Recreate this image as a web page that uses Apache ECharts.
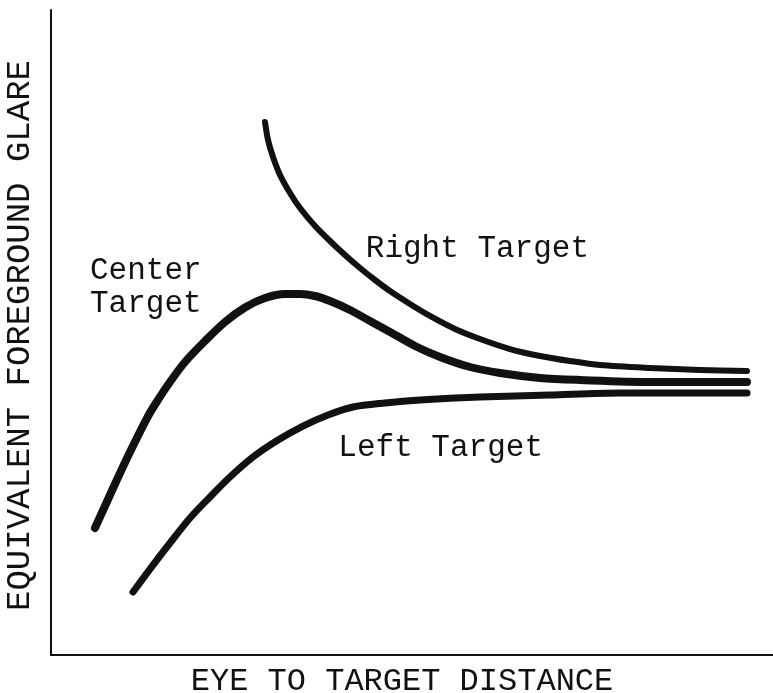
<!DOCTYPE html>
<html>
<head>
<meta charset="utf-8">
<script src="https://cdn.jsdelivr.net/npm/echarts@6/dist/echarts.min.js"></script>
<style>
  html, body { margin: 0; padding: 0; background: #fff; }
  #chart { width: 773px; height: 693px; }
</style>
</head>
<body>
<div id="chart"></div>
<script>
// arbitrary units (x: 0-100 distance, y: 0-100 glare)
var rightTarget = [
  [29.64, 82.64], [30.06, 79.84], [30.75, 77.21], [31.72, 74.42], [33.10, 71.63],
  [34.49, 69.30], [36.57, 66.51], [38.64, 64.19], [40.72, 62.02], [42.80, 60.00],
  [44.88, 58.14], [46.95, 56.43], [49.72, 54.42], [52.49, 52.56], [55.96, 50.54],
  [59.42, 48.99], [63.57, 47.44], [67.73, 46.36], [71.88, 45.58], [76.04, 44.96],
  [82.96, 44.50], [89.89, 44.19], [96.40, 44.03]
];
var centerTarget = [
  [6.09, 19.69], [7.48, 23.10], [8.86, 26.51], [10.94, 31.47], [13.30, 36.74],
  [14.54, 39.07], [16.48, 42.33], [18.56, 45.43], [21.33, 48.68], [24.10, 51.63],
  [26.87, 53.88], [29.64, 55.35], [32.41, 55.97], [34.49, 55.97], [36.57, 55.66],
  [38.64, 54.88], [41.41, 53.49], [44.18, 51.78], [46.95, 50.08], [50.42, 47.91],
  [53.88, 46.20], [58.03, 44.65], [62.19, 43.72], [67.73, 42.95], [73.27, 42.64],
  [82.96, 42.33], [96.40, 42.33]
];
var leftTarget = [
  [11.36, 9.77], [13.71, 13.33], [16.48, 17.36], [19.25, 21.24], [22.02, 24.50],
  [24.79, 27.60], [27.98, 30.70], [31.44, 33.33], [34.90, 35.50], [38.37, 37.21],
  [41.83, 38.45], [46.26, 39.07], [51.11, 39.53], [59.42, 40.00], [69.11, 40.31],
  [78.81, 40.62], [96.40, 40.62]
];
var labels = [
  { text: 'Right Target', x: 43.6, y: 62.9 },
  { text: 'Center\nTarget', x: 5.4, y: 57.0 },
  { text: 'Left Target', x: 39.8, y: 32.2 }
];

var font = "'Liberation Mono', 'Courier New', monospace";
var ink = '#111';

var chart = echarts.init(document.getElementById('chart'));

function curve(name, data, width) {
  return {
    name: name,
    type: 'line',
    data: data,
    smooth: 0.3,
    showSymbol: false,
    silent: true,
    lineStyle: { color: ink, width: width, cap: 'round', join: 'round' }
  };
}

var option = {
  backgroundColor: '#fff',
  animation: false,
  grid: { left: 51, right: 0, top: 10, bottom: 38, outerBoundsMode: 'none' },
  xAxis: {
    type: 'value',
    min: 0,
    max: 100,
    name: 'EYE TO TARGET DISTANCE',
    nameLocation: 'middle',
    nameGap: 11,
    nameTextStyle: { fontFamily: font, fontSize: 32, color: ink, padding: [0, 20, 0, 0] },
    axisLine: { show: true, lineStyle: { color: ink, width: 2 } },
    axisTick: { show: false },
    axisLabel: { show: false },
    splitLine: { show: false }
  },
  yAxis: {
    type: 'value',
    min: 0,
    max: 100,
    name: 'EQUIVALENT FOREGROUND GLARE',
    nameLocation: 'middle',
    nameGap: 14,
    nameTextStyle: { fontFamily: font, fontSize: 34, color: ink, padding: [0, 6, 0, 0] },
    axisLine: { show: true, lineStyle: { color: ink, width: 2 } },
    axisTick: { show: false },
    axisLabel: { show: false },
    splitLine: { show: false }
  },
  series: [
    curve('Right Target', rightTarget, 6),
    curve('Center Target', centerTarget, 8),
    curve('Left Target', leftTarget, 7)
  ]
};
chart.setOption(option);

// annotations placed in data coordinates
var g = labels.map(function (l) {
  var p = chart.convertToPixel({ gridIndex: 0 }, [l.x, l.y]);
  return {
    type: 'text',
    x: p[0],
    y: p[1],
    style: {
      text: l.text,
      font: '31px ' + font,
      fill: ink,
      lineHeight: 33,
      textVerticalAlign: 'middle'
    }
  };
});
chart.setOption({ graphic: g });
</script>
</body>
</html>
